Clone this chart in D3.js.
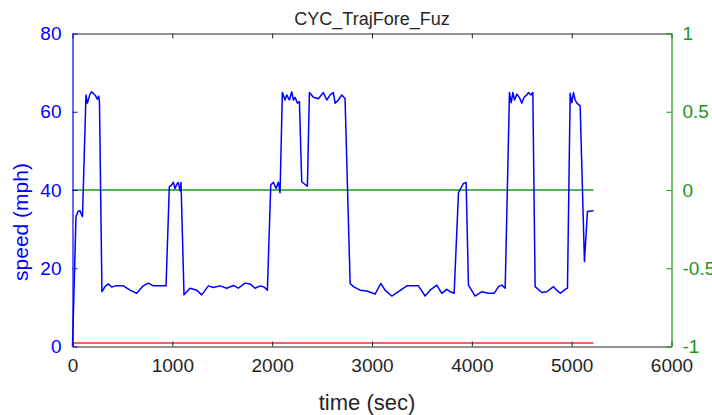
<!DOCTYPE html>
<html>
<head>
<meta charset="utf-8">
<script src="https://cdn.jsdelivr.net/npm/d3@7"></script>
<style>
  body { margin: 0; background: #fff; }
  svg text { font-family: "Liberation Sans", Arial, sans-serif; }
</style>
</head>
<body>
<div id="chart"></div>
<script>
// speed trace (time in sec, speed in mph)
const timeSec = [0, 35, 55, 75, 100, 135, 149, 175, 192, 225, 249, 262, 270, 295,
  326, 359, 393, 430, 459, 509, 576, 643, 709, 760, 810, 937,
  970, 994, 1010, 1027, 1045, 1060, 1077, 1087, 1117,
  1177, 1244, 1294, 1361, 1411, 1478, 1545, 1612, 1662, 1728, 1779, 1829, 1879, 1919, 1952,
  1986, 2012, 2039, 2062, 2079,
  2102, 2129, 2146, 2173, 2196, 2213, 2229, 2253, 2273,
  2296, 2330, 2353,
  2373, 2413, 2463, 2513, 2547, 2580, 2613, 2630, 2663, 2697, 2730,
  2781, 2814, 2881, 2948, 3031, 3088, 3131, 3198, 3265, 3349, 3465, 3532, 3582, 3649, 3699, 3749, 3783, 3823,
  3866, 3916, 3943, 3966,
  4033, 4100, 4166, 4223, 4267, 4300, 4334,
  4377, 4394, 4411, 4427, 4451, 4477, 4501, 4524, 4551, 4567, 4591, 4611,
  4634, 4701, 4751, 4818, 4851, 4885, 4935, 4958,
  4985, 5002, 5018, 5035, 5052, 5085, 5128, 5158, 5218];
const speedMph = [0, 33.2, 34.5, 34.7, 33.2, 64.3, 62.2, 64.5, 65.1, 64.3, 63.2, 64.0, 62.6, 14.0,
  15.3, 16.0, 15.2, 15.5, 15.5, 15.5, 14.4, 13.6, 15.5, 16.2, 15.5, 15.5,
  40.8, 41.3, 42.0, 40.4, 41.5, 41.9, 39.8, 41.9, 13.2,
  14.9, 14.4, 13.2, 15.5, 15.1, 15.5, 14.9, 15.6, 14.9, 16.2, 16.0, 14.9, 15.5, 15.2, 14.4,
  41.3, 42.0, 40.4, 42.0, 39.3,
  64.9, 63.0, 64.3, 63.0, 65.1, 63.0, 63.7, 62.2, 62.6,
  42.1, 41.4, 41.0,
  64.9, 63.7, 63.3, 64.9, 63.0, 64.3, 64.9, 62.2, 63.0, 64.3, 63.4,
  16.1, 15.3, 14.4, 14.2, 13.4, 16.1, 14.4, 12.9, 14.0, 15.5, 15.5, 12.9, 14.4, 15.7, 13.6, 14.6, 14.0, 13.6,
  39.3, 41.7, 41.9, 15.7,
  12.9, 14.0, 13.6, 13.6, 15.3, 15.7, 14.9,
  64.9, 62.3, 64.9, 63.0, 64.5, 63.6, 62.2, 63.7, 64.3, 64.9, 64.3, 64.9,
  15.3, 13.8, 14.0, 15.3, 14.4, 13.6, 14.6, 14.9,
  64.7, 62.3, 64.9, 63.0, 62.2, 61.5, 21.7, 34.5, 34.7];

// flat reference lines
const zeroLineRight = 0;     // on right axis
const floorLineMph = 0.9;    // red line near the bottom

const xTicks = [0, 1000, 2000, 3000, 4000, 5000, 6000];
const yTicksLeft = [0, 20, 40, 60, 80];
const yTicksRight = [-1, -0.5, 0, 0.5, 1];

const width = 712, height = 415;
const margin = {top: 33.5, right: 40.5, bottom: 68.5, left: 72.5};
const iw = width - margin.left - margin.right;
const ih = height - margin.top - margin.bottom;

const blue = "#0000ff", green = "#1a961a", red = "#ff2a2a", dark = "#262626";

const svg = d3.select("#chart").append("svg")
    .attr("width", width)
    .attr("height", height);

const g = svg.append("g").attr("transform", `translate(${margin.left},${margin.top})`);

const x = d3.scaleLinear().domain([0, 6000]).range([0, iw]);
const yL = d3.scaleLinear().domain([0, 80]).range([ih, 0]);
const yR = d3.scaleLinear().domain([-1, 1]).range([ih, 0]);

const tEnd = d3.max(timeSec);

// red line
g.append("line")
    .attr("x1", x(0)).attr("x2", x(tEnd))
    .attr("y1", yL(floorLineMph)).attr("y2", yL(floorLineMph))
    .attr("stroke", red).attr("stroke-width", 1.6);

// green zero line
g.append("line")
    .attr("x1", x(0)).attr("x2", x(tEnd))
    .attr("y1", yR(zeroLineRight)).attr("y2", yR(zeroLineRight))
    .attr("stroke", green).attr("stroke-width", 1.5);

// speed line
const line = d3.line()
    .x((d, i) => x(timeSec[i]))
    .y(d => yL(d));

g.append("path")
    .datum(speedMph)
    .attr("fill", "none")
    .attr("stroke", blue)
    .attr("stroke-width", 1.5)
    .attr("stroke-linejoin", "round")
    .attr("d", line);

// axes, ticks pointing inward
const fmt = d => String(d);

const xAxis = g.append("g")
    .attr("transform", `translate(0,${ih})`)
    .call(d3.axisBottom(x).tickValues(xTicks).tickFormat(fmt).tickSizeInner(-5).tickSizeOuter(0).tickPadding(12));
xAxis.select(".domain").attr("stroke", dark);
xAxis.selectAll(".tick line").attr("stroke", dark);
xAxis.selectAll("text").attr("fill", dark).style("font-size", "19px");

const topAxis = g.append("g")
    .call(d3.axisTop(x).tickValues(xTicks).tickFormat("").tickSizeInner(-5).tickSizeOuter(0));
topAxis.select(".domain").attr("stroke", dark);
topAxis.selectAll(".tick line").attr("stroke", dark);

const leftAxis = g.append("g")
    .call(d3.axisLeft(yL).tickValues(yTicksLeft).tickFormat(fmt).tickSizeInner(-5).tickSizeOuter(0).tickPadding(11));
leftAxis.select(".domain").attr("stroke", blue);
leftAxis.selectAll(".tick line").attr("stroke", blue);
leftAxis.selectAll("text").attr("fill", blue).style("font-size", "19px");

const rightAxis = g.append("g")
    .attr("transform", `translate(${iw},0)`)
    .call(d3.axisRight(yR).tickValues(yTicksRight).tickFormat(fmt).tickSizeInner(-5).tickSizeOuter(0).tickPadding(11));
rightAxis.select(".domain").attr("stroke", green);
rightAxis.selectAll(".tick line").attr("stroke", green);
rightAxis.selectAll("text").attr("fill", green).style("font-size", "19px");

svg.selectAll(".domain").attr("stroke-width", 1.2);

// labels
svg.append("text")
    .attr("x", margin.left + iw / 2)
    .attr("y", 25)
    .attr("text-anchor", "middle")
    .attr("fill", dark)
    .style("font-size", "18px")
    .text("CYC_TrajFore_Fuz");

svg.append("text")
    .attr("x", margin.left + iw / 2 - 5)
    .attr("y", 410)
    .attr("text-anchor", "middle")
    .attr("fill", dark)
    .style("font-size", "22px")
    .text("time (sec)");

svg.append("text")
    .attr("transform", `translate(28,222) rotate(-90)`)
    .attr("text-anchor", "middle")
    .attr("fill", blue)
    .style("font-size", "21px")
    .text("speed (mph)");
</script>
</body>
</html>
